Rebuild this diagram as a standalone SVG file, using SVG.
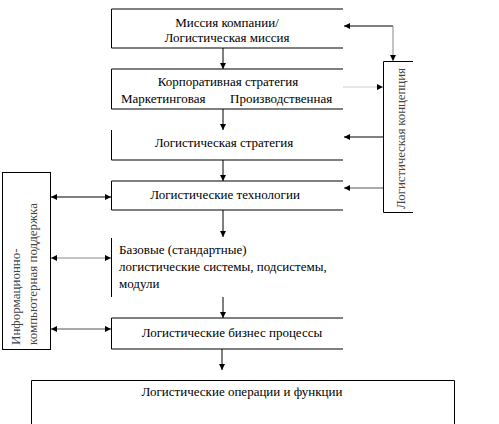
<svg xmlns="http://www.w3.org/2000/svg" width="499" height="424" viewBox="0 0 499 424" font-family="'Liberation Serif', 'DejaVu Serif', serif">
<style>
text{font-family:'Liberation Serif','DejaVu Serif','Noto Serif',serif;font-size:13px;fill:#000}
.c{text-anchor:middle}
.ln{fill:none;stroke:#000;stroke-width:1}
.g{stroke:#888}
.lg{stroke:#ccc}
.dg{stroke:#555}
.side{fill:#444}
</style>
<defs>
<marker id="ah" viewBox="0 0 10 10" refX="10" refY="5" markerWidth="6" markerHeight="6" markerUnits="userSpaceOnUse" orient="auto-start-reverse">
<path d="M0,0 L10,5 L0,10 z" fill="#000"/>
</marker>
</defs>
<rect width="499" height="424" fill="#fff"/>

<g id="mission">
<path class="ln" d="M343,9 H111.5 V48 H343"/>
<text class="c" x="227" y="27">Миссия компании/</text>
<text class="c" x="227" y="42">Логистическая миссия</text>
</g>

<g id="corporate">
<path class="ln" d="M343,69 H111.5 V109 H343"/>
<text class="c" x="228" y="86">Корпоративная стратегия</text>
<text y="103"><tspan x="121">Маркетинговая</tspan><tspan x="230">Производственная</tspan></text>
</g>

<g id="logstrategy">
<path class="ln" d="M111.5,130 V160 H343"/>
<text class="c" x="224" y="147">Логистическая стратегия</text>
</g>

<g id="logtech">
<path class="ln" d="M343,181 H111.5 V210 H343"/>
<text class="c" x="225" y="199">Логистические технологии</text>
</g>

<g id="basic">
<path class="ln" d="M111.5,238 V297"/>
<text x="119" y="254">Базовые (стандартные)</text>
<text x="119" y="271">логистические системы, подсистемы,</text>
<text x="119" y="288">модули</text>
</g>

<g id="business">
<path class="ln" d="M343,318 H111.5 V349 H343"/>
<text class="c" x="232" y="337">Логистические бизнес процессы</text>
</g>

<g id="operations">
<path class="ln" d="M31.5,424 V380.5 H454.5 V424"/>
<text class="c" x="242" y="396">Логистические операции и функции</text>
</g>

<g id="concept">
<path class="ln" d="M413,61.5 H383.5 V212.5 H413"/>
<text class="side" transform="translate(405,209) rotate(-90)" font-size="12" textLength="141" lengthAdjust="spacing">Логистическая концепция</text>
</g>

<g id="infosupport">
<rect class="ln" x="2.5" y="172.5" width="48" height="177"/>
<text class="side" transform="translate(20,345) rotate(-90)">Информационно-</text>
<text class="side" transform="translate(37,345) rotate(-90)">компьютерная поддержка</text>
</g>

<g id="connectors">
<line class="ln" x1="223" y1="48" x2="223" y2="69" marker-end="url(#ah)"/>
<line class="ln" x1="223" y1="109" x2="223" y2="130" marker-end="url(#ah)"/>
<line class="ln" x1="223" y1="160" x2="223" y2="181" marker-end="url(#ah)"/>
<line class="ln" x1="223" y1="210" x2="223" y2="237" marker-end="url(#ah)"/>
<line class="ln" x1="223" y1="297" x2="223" y2="318" marker-end="url(#ah)"/>
<line class="ln" x1="222" y1="349" x2="222" y2="370" marker-end="url(#ah)"/>

<line class="ln" x1="393" y1="26" x2="344" y2="26" marker-end="url(#ah)"/>
<line class="ln g" x1="393" y1="26" x2="393" y2="61" marker-end="url(#ah)"/>
<line class="ln lg" x1="343" y1="87" x2="383" y2="87" marker-end="url(#ah)"/>
<line class="ln" x1="383" y1="137" x2="344" y2="137" stroke-width="1.3" marker-end="url(#ah)"/>
<line class="ln dg" x1="383" y1="188" x2="344" y2="188" marker-end="url(#ah)"/>

<line class="ln" x1="51" y1="197" x2="111" y2="197" marker-start="url(#ah)" marker-end="url(#ah)"/>
<line class="ln g" x1="51" y1="258" x2="111" y2="258" marker-start="url(#ah)" marker-end="url(#ah)"/>
<line class="ln dg" x1="51" y1="329" x2="111" y2="329" marker-start="url(#ah)" marker-end="url(#ah)"/>
</g>
</svg>
